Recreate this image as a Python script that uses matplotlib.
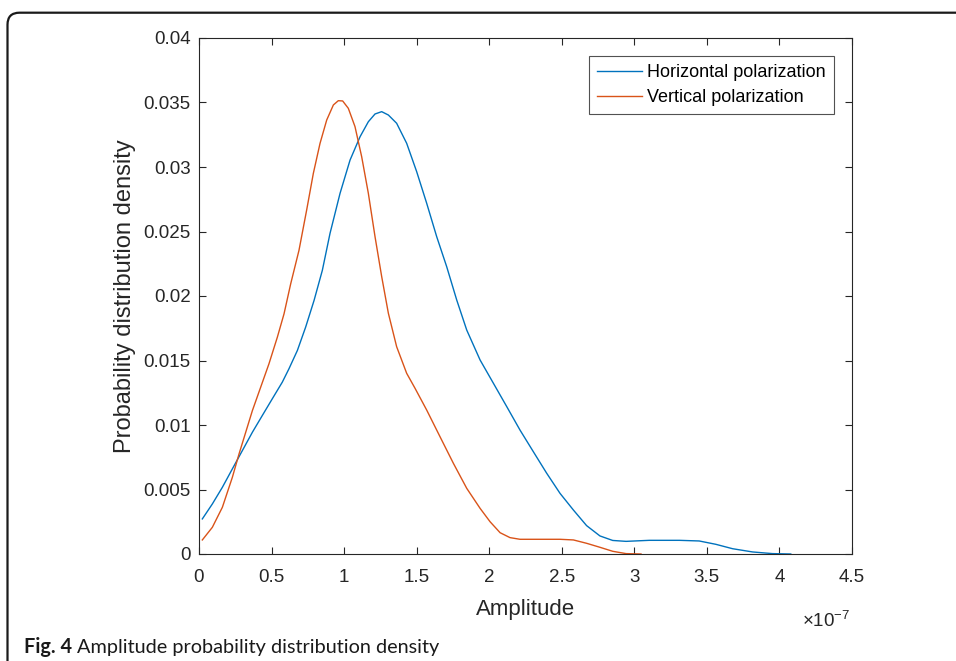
import numpy as np
import matplotlib
matplotlib.use("Agg")
import matplotlib.pyplot as plt
from matplotlib.patches import FancyBboxPatch
from matplotlib.ticker import FuncFormatter

# amplitude in units of 1e-7
amp_h = np.array([0.023, 0.092, 0.161, 0.230, 0.299, 0.368, 0.436, 0.505, 0.574, 0.620,
                  0.678, 0.735, 0.793, 0.850, 0.903, 0.972, 1.041, 1.110, 1.167, 1.213,
                  1.259, 1.305, 1.362, 1.431, 1.500, 1.569, 1.638, 1.707, 1.776, 1.845,
                  1.937, 2.029, 2.121, 2.212, 2.304, 2.396, 2.488, 2.580, 2.671, 2.763,
                  2.851, 2.943, 3.103, 3.310, 3.447, 3.562, 3.677, 3.814, 3.952, 4.078]) * 1e-7
pdf_h = np.array([0.00272, 0.00388, 0.00517, 0.0066, 0.00802, 0.00944, 0.01073, 0.01203, 0.01332, 0.01436,
                  0.01578, 0.01759, 0.01966, 0.02199, 0.02486, 0.02796, 0.03054, 0.03235, 0.03351, 0.03411,
                  0.03429, 0.03403, 0.03339, 0.03184, 0.02964, 0.02719, 0.0246, 0.02227, 0.01969, 0.01736,
                  0.01504, 0.01323, 0.01142, 0.00961, 0.00793, 0.00626, 0.0047, 0.00341, 0.0022, 0.0014,
                  0.00105, 0.00098, 0.00106, 0.00106, 0.00101, 0.00075, 0.00041, 0.00016, 0.00003, 0.0])

amp_v = np.array([0.023, 0.092, 0.161, 0.230, 0.276, 0.322, 0.368, 0.425, 0.482, 0.540,
                  0.586, 0.632, 0.689, 0.742, 0.788, 0.834, 0.880, 0.926, 0.960, 0.990,
                  1.029, 1.075, 1.121, 1.167, 1.213, 1.259, 1.305, 1.362, 1.431, 1.489,
                  1.569, 1.661, 1.753, 1.845, 1.937, 2.006, 2.075, 2.143, 2.212, 2.350,
                  2.488, 2.580, 2.671, 2.763, 2.851, 2.943, 3.046]) * 1e-7
pdf_v = np.array([0.00109, 0.00207, 0.00362, 0.00595, 0.00776, 0.00944, 0.01112, 0.01293, 0.01474, 0.01681,
                  0.01862, 0.02095, 0.02354, 0.02667, 0.02951, 0.03183, 0.03364, 0.03481, 0.03514, 0.03512,
                  0.03455, 0.03313, 0.0308, 0.02796, 0.0246, 0.0215, 0.01866, 0.01607, 0.01401, 0.01284,
                  0.01116, 0.00909, 0.00703, 0.00509, 0.00354, 0.0025, 0.00165, 0.00127, 0.00114, 0.00114,
                  0.00114, 0.00109, 0.00083, 0.00052, 0.00021, 0.00003, 0.0])

labels = ["Horizontal polarization", "Vertical polarization"]
xticks = np.arange(0, 4.51, 0.5) * 1e-7
yticks = np.arange(0, 0.0401, 0.005)

plt.rcParams['font.family'] = ['Liberation Sans', 'DejaVu Sans']
plt.rcParams['mathtext.fontset'] = 'custom'
plt.rcParams['mathtext.rm'] = 'Liberation Sans'
plt.rcParams['mathtext.it'] = 'Liberation Sans'

fig = plt.figure(figsize=(9.56, 6.61), dpi=100)
ax = fig.add_axes([199 / 956, 1 - 554 / 661, 653 / 956, 516 / 661])

gray = '#262626'
ax.plot(amp_h, pdf_h, color='#0072BD', lw=1.0, label=labels[0])
ax.plot(amp_v, pdf_v, color='#D95319', lw=1.0, label=labels[1])

ax.set_xlim(0, 4.5e-7)
ax.set_ylim(0, 0.04)
ax.set_xticks(xticks)
ax.set_yticks(yticks)
ax.xaxis.set_major_formatter(FuncFormatter(lambda v, p: '%g' % round(v / 1e-7, 3)))
ax.yaxis.set_major_formatter(FuncFormatter(lambda v, p: '%g' % round(v, 4)))
ax.tick_params(direction='in', length=4.7, width=0.8, colors=gray, labelsize=13.5,
               top=True, right=True)
ax.tick_params(axis='x', pad=11)
ax.tick_params(axis='y', pad=6)
for s in ax.spines.values():
    s.set_color(gray)
    s.set_linewidth(0.8)

ax.set_xlabel("Amplitude", fontsize=16, color=gray, labelpad=9)
ax.set_ylabel("Probability distribution density", fontsize=17, color=gray, labelpad=5)
fig.text(802 / 956, 1 - 627 / 661, r'$\times10^{-7}$', fontsize=13.5, color=gray)

leg = ax.legend(loc='upper right', bbox_to_anchor=(0.9724, 0.9651), borderaxespad=0,
                fontsize=13, frameon=True, fancybox=False, handlelength=2.5,
                handletextpad=0.3, labelspacing=0.45, borderpad=0.45)
leg.get_frame().set_edgecolor(gray)
leg.get_frame().set_linewidth(0.8)
for t in leg.get_texts():
    t.set_color('black')

# outer frame of the figure panel
frame = FancyBboxPatch((0.075, -0.5), 10.0, 6.483 + 0.5,
                       boxstyle='round,pad=0,rounding_size=0.12',
                       transform=fig.dpi_scale_trans, fill=False,
                       edgecolor='#1a1a1a', linewidth=1.6)
fig.patches.append(frame)

# caption
cap1 = fig.text(24 / 956, 1 - 647 / 661, "Fig. 4", fontsize=14.3, fontweight='bold',
                family='Lato', va='center', color='#1a1a1a')
fig.canvas.draw()
bb = cap1.get_window_extent()
fig.text((bb.x1 + 5) / 956, 1 - 647 / 661, "Amplitude probability distribution density",
         fontsize=14.3, family='Lato', va='center', color='#1a1a1a')

fig.savefig("out.png", dpi=100)
